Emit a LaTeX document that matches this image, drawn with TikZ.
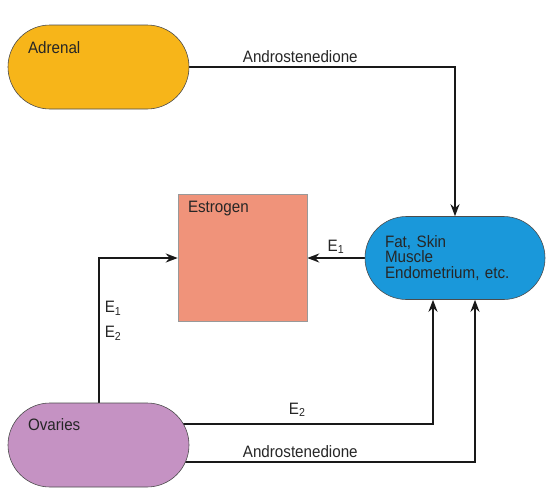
\documentclass[tikz,border=0pt]{standalone}
\usepackage{fontspec}
\setmainfont{Liberation Sans}[FakeStretch=0.92]
\usepackage{xcolor}
\usetikzlibrary{arrows.meta, positioning, backgrounds}

\definecolor{adrenalfill}{HTML}{F7B519}
\definecolor{estrogenfill}{HTML}{F0937A}
\definecolor{tissuefill}{HTML}{1A98DA}
\definecolor{ovaryfill}{HTML}{C592C3}

\begin{document}
\begin{tikzpicture}[
    x=1pt, y=-1pt,
    font=\fontsize{16.5}{15.5}\selectfont,
    organ/.style={rectangle, draw=black!70, line width=0.6pt, rounded corners=42pt, inner xsep=20pt, inner ysep=0pt, text width=141pt, align=left, text=black!85},
    hormone/.style={rectangle, draw=black!40, line width=0.5pt, fill=estrogenfill, inner xsep=10pt, inner ysep=0pt, text width=109pt, align=left, text=black!85},
    arrow/.style={line width=2pt, draw=black!90, -{Stealth[length=12pt, width=9pt]}},
    lbl/.style={text=black!85}
]
    \useasboundingbox (0,0) rectangle (555,501);

    \node [organ, fill=adrenalfill, text height=28pt, text depth=56pt] (adrenal) at (98.5,67) {Adrenal};
    \node [hormone, text height=18pt, text depth=109pt] (estrogen) at (242.5,258) {Estrogen};
    \node [organ, fill=tissuefill, rounded corners=41.5pt, text width=140pt, minimum height=83pt] (tissue) at (455,258) {Fat, Skin\\Muscle\\Endometrium, etc.};
    \node [organ, fill=ovaryfill, text height=27pt, text depth=57pt] (ovaries) at (98.5,445) {Ovaries};

    \begin{scope}[on background layer]
        \fill [white] (0,0) rectangle (555,501);
        \draw [arrow] (adrenal.center) -| node[lbl, pos=0.283, above] {Androstenedione} (tissue.north);
        \draw [arrow] (tissue) -- node[lbl, above] {E\textsubscript{1}} (estrogen);
        \draw [arrow] (ovaries.center) |- node[lbl, pos=0.332, right=2pt, align=left] {E\textsubscript{1}\\[9.5pt]E\textsubscript{2}} (estrogen.west);
        \draw [arrow] ([yshift=21pt]ovaries.center) -| node[lbl, pos=0.297, above=3pt] {E\textsubscript{2}} ([xshift=-22pt]tissue.south);
        \draw [arrow] ([yshift=-17pt]ovaries.center) -| node[lbl, pos=0.268, above] {Androstenedione} ([xshift=20pt]tissue.south);
    \end{scope}
\end{tikzpicture}
\end{document}
